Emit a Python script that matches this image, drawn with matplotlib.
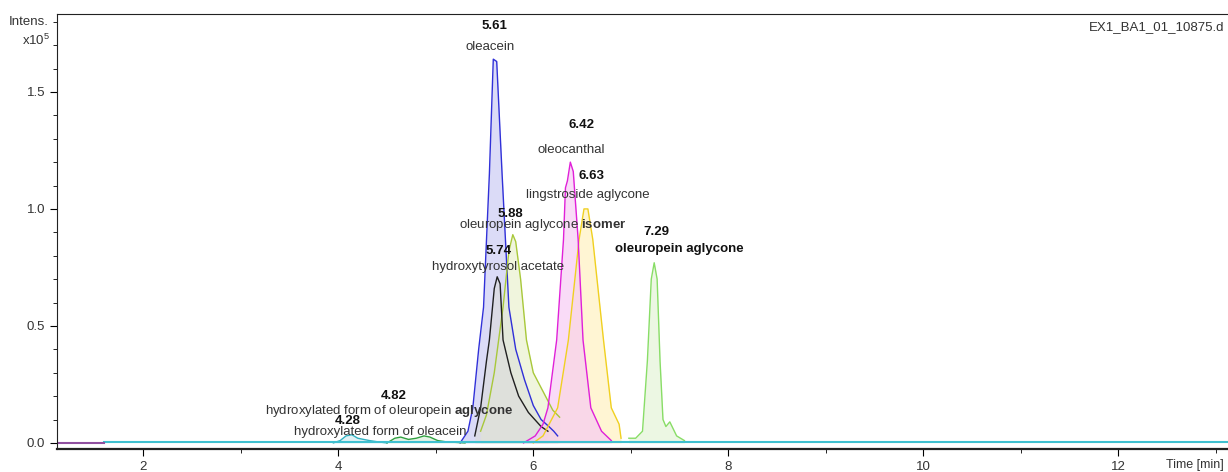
import matplotlib
matplotlib.use("Agg")
from matplotlib import pyplot as plt
from matplotlib.ticker import MultipleLocator

plt.rcParams['font.family'] = ['Liberation Sans', 'DejaVu Sans']
plt.rcParams['mathtext.fontset'] = 'custom'
plt.rcParams['mathtext.rm'] = 'Liberation Sans'
plt.rcParams['mathtext.bf'] = 'Liberation Sans:bold'

# retention time (min) / intensity (x10^5)
oleacein_t = [5.25, 5.33, 5.38, 5.44, 5.49, 5.55, 5.59, 5.625, 5.68, 5.75, 5.82, 5.91, 6.00, 6.08, 6.16, 6.21, 6.25]
oleacein_y = [0.00, 0.05, 0.15, 0.40, 0.58, 1.15, 1.64, 1.63, 1.15, 0.58, 0.40, 0.27, 0.16, 0.10, 0.07, 0.05, 0.03]

htacetate_t = [5.40, 5.46, 5.52, 5.55, 5.60, 5.63, 5.66, 5.69, 5.77, 5.85, 5.95, 6.08, 6.15]
htacetate_y = [0.03, 0.15, 0.35, 0.44, 0.66, 0.71, 0.68, 0.44, 0.30, 0.20, 0.13, 0.07, 0.05]

isomer_t = [5.46, 5.52, 5.60, 5.69, 5.75, 5.79, 5.82, 5.87, 5.93, 6.00, 6.10, 6.20, 6.27]
isomer_y = [0.05, 0.12, 0.30, 0.58, 0.82, 0.89, 0.86, 0.70, 0.44, 0.30, 0.22, 0.14, 0.11]

oleocanthal_t = [5.90, 6.02, 6.10, 6.15, 6.24, 6.31, 6.33, 6.35, 6.38, 6.41, 6.46, 6.51, 6.59, 6.70, 6.80]
oleocanthal_y = [0.00, 0.03, 0.08, 0.15, 0.44, 0.87, 1.09, 1.12, 1.20, 1.16, 0.87, 0.44, 0.15, 0.05, 0.01]

lingstroside_t = [6.00, 6.10, 6.25, 6.36, 6.47, 6.52, 6.56, 6.61, 6.72, 6.80, 6.88, 6.90]
lingstroside_y = [0.00, 0.03, 0.15, 0.44, 0.87, 1.00, 1.00, 0.87, 0.44, 0.15, 0.08, 0.02]

aglycone_t = [6.98, 7.05, 7.12, 7.17, 7.21, 7.24, 7.27, 7.30, 7.33, 7.36, 7.40, 7.47, 7.55]
aglycone_y = [0.02, 0.02, 0.05, 0.35, 0.70, 0.77, 0.70, 0.35, 0.10, 0.07, 0.09, 0.03, 0.01]

hyd_oleacein_t = [3.95, 4.02, 4.08, 4.14, 4.20, 4.26, 4.32, 4.40, 4.50]
hyd_oleacein_y = [0.00, 0.01, 0.03, 0.035, 0.02, 0.015, 0.01, 0.005, 0.00]

hyd_aglycone_t = [4.50, 4.58, 4.64, 4.72, 4.80, 4.88, 4.94, 5.02, 5.10, 5.30]
hyd_aglycone_y = [0.00, 0.02, 0.025, 0.015, 0.02, 0.03, 0.025, 0.01, 0.005, 0.00]

baseline_t = [1.6, 13.2]
baseline_y = [0.003, 0.003]
start_t = [1.1, 1.6]
start_y = [0.0, 0.0]

# (x, y, text, bold) labels
labels = [
    (5.60, 1.78, "5.61", True), (5.56, 1.69, "oleacein", False),
    (6.49, 1.36, "6.42", True), (6.39, 1.25, "oleocanthal", False),
    (6.60, 1.14, "6.63", True), (6.56, 1.06, "lingstroside aglycone", False),
    (5.76, 0.98, "5.88", True), (6.10, 0.93, r"oleuropein aglycone $\mathbf{isomer}$", False),
    (5.64, 0.82, "5.74", True), (5.64, 0.75, "hydroxytyrosol acetate", False),
    (7.26, 0.90, "7.29", True), (7.50, 0.83, "oleuropein aglycone", True),
    (4.57, 0.20, "4.82", True), (4.52, 0.137, r"hydroxylated form of oleuropein $\mathbf{aglycone}$", False),
    (4.10, 0.094, "4.28", True), (4.43, 0.047, "hydroxylated form of oleacein", False),
]

fig = plt.figure(figsize=(12.28, 4.72), dpi=100)
ax = fig.add_axes([57/1228, 23/472, 1 - 57/1228 + 0.01, 435/472])

traces = [
    (oleacein_t, oleacein_y, '#3030d8', '#c8c8f4'),
    (isomer_t, isomer_y, '#a8c83a', '#e8f0cc'),
    (htacetate_t, htacetate_y, '#202020', '#dcdcdc'),
    (lingstroside_t, lingstroside_y, '#f0d020', '#fff0bc'),
    (oleocanthal_t, oleocanthal_y, '#e020d8', '#f6c8f4'),
    (aglycone_t, aglycone_y, '#88dd66', '#e2f4d4'),
    (hyd_oleacein_t, hyd_oleacein_y, '#30b0c0', '#d0ecf0'),
    (hyd_aglycone_t, hyd_aglycone_y, '#30a040', '#d8eed8'),
]
for t, y, c, fc in traces:
    ax.fill_between(t, 0, y, color=fc, alpha=0.65, lw=0)
for t, y, c, fc in traces:
    ax.plot(t, y, color=c, lw=1.0)

ax.plot(baseline_t, baseline_y, color='#40c0d0', lw=1.5)
ax.plot(start_t, start_y, color='#9050a0', lw=1.5)

for x, y, s, b in labels:
    ax.text(x, y, s, ha='center', va='center', fontsize=9.5,
            fontweight='bold' if b else 'normal', color='#111111' if b else '#333333')

ax.set_xlim(1.116, 13.25)
ax.set_ylim(-0.026, 1.833)
ax.xaxis.set_major_locator(MultipleLocator(2))
ax.xaxis.set_minor_locator(MultipleLocator(1))
ax.yaxis.set_major_locator(MultipleLocator(0.5))
ax.yaxis.set_minor_locator(MultipleLocator(0.1))
ax.tick_params(axis='both', which='major', length=5, labelsize=9.5, labelcolor='#333333', direction='out')
ax.tick_params(axis='both', which='minor', length=3, direction='out')
ax.set_yticks([0.0, 0.5, 1.0, 1.5])
ax.set_yticklabels(["0.0", "0.5", "1.0", "1.5"])
ax.spines['right'].set_visible(False)
for s in ['left', 'top', 'bottom']:
    ax.spines[s].set_color('#222222')
ax.spines['bottom'].set_linewidth(1.6)

fig.text(49/1228, 1 - 22/472, "Intens.", ha='right', va='center', fontsize=9.5, color='#333333')
fig.text(50/1228, 1 - 40/472, r"x10$^5$", ha='right', va='center', fontsize=9.5, color='#333333')
fig.text(1224/1228, 1 - 27/472, "EX1_BA1_01_10875.d", ha='right', va='center', fontsize=9.5, color='#333333')
fig.text(1224/1228, 1 - 465/472, "Time [min]", ha='right', va='center', fontsize=9, color='#333333')

plt.savefig("out.png", dpi=100)
